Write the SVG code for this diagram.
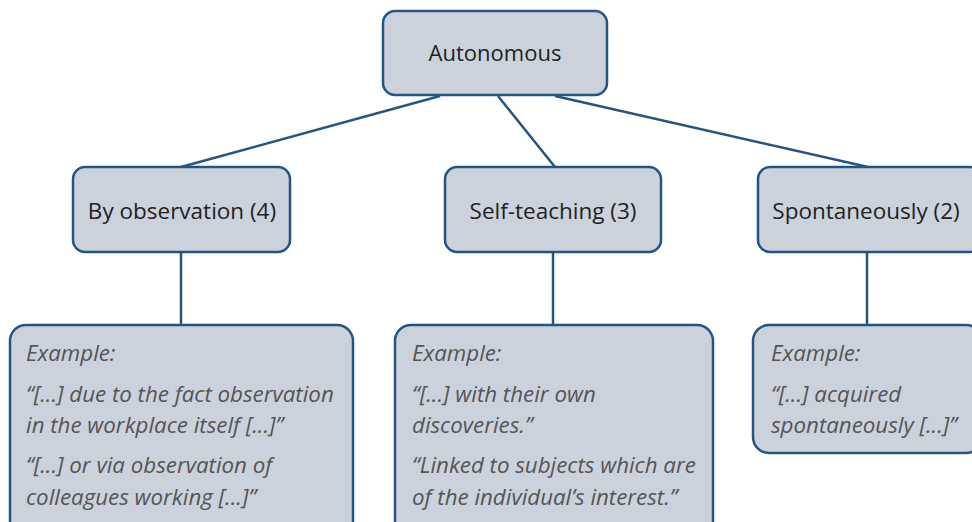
<svg xmlns="http://www.w3.org/2000/svg" width="972" height="522" viewBox="0 0 972 522">
<style>
.box{fill:#cbd2dc;stroke:#245582;stroke-width:2.5}
.lbl{font-family:"Open Sans","Liberation Sans",sans-serif;font-size:22.5px;fill:#222;text-anchor:middle}
.ex{font-family:"Open Sans","Liberation Sans",sans-serif;font-size:22.3px;font-style:italic;fill:#555}
.conn{stroke:#245582;stroke-width:2.5;fill:none}
</style>
<rect width="972" height="522" fill="#ffffff"/>
<g id="connectors">
<line class="conn" x1="440" y1="96" x2="181" y2="167"/>
<line class="conn" x1="498" y1="96" x2="555" y2="167"/>
<line class="conn" x1="555" y1="96" x2="868" y2="167"/>
<line class="conn" x1="181" y1="252" x2="181" y2="325"/>
<line class="conn" x1="553" y1="252" x2="553" y2="325"/>
<line class="conn" x1="867" y1="252" x2="867" y2="325"/>
</g>
<g id="autonomous">
<rect class="box" x="383" y="11" width="224" height="84" rx="12"/>
<text class="lbl" x="495" y="61" style="font-size:22px">Autonomous</text>
</g>
<g id="observation">
<rect class="box" x="73" y="167" width="217" height="85" rx="12"/>
<text class="lbl" x="182" y="219">By observation (4)</text>
</g>
<g id="selfteaching">
<rect class="box" x="445" y="167" width="216" height="85" rx="12"/>
<text class="lbl" x="553" y="219">Self-teaching (3)</text>
</g>
<g id="spontaneously">
<rect class="box" x="758" y="167" width="224" height="85" rx="12"/>
<text class="lbl" x="866" y="219">Spontaneously (2)</text>
</g>
<g id="ex-observation">
<rect class="box" x="10" y="325" width="343" height="215" rx="16"/>
<text class="ex" x="26" y="361">Example:</text>
<text class="ex" x="26" y="402">“[...] due to the fact observation</text>
<text class="ex" x="26" y="433">in the workplace itself [...]”</text>
<text class="ex" x="26" y="473">“[...] or via observation of</text>
<text class="ex" x="26" y="505">colleagues working [...]”</text>
</g>
<g id="ex-selfteaching">
<rect class="box" x="395" y="325" width="318" height="215" rx="16"/>
<text class="ex" x="412" y="361">Example:</text>
<text class="ex" x="412" y="402">“[...] with their own</text>
<text class="ex" x="412" y="433">discoveries.”</text>
<text class="ex" x="412" y="473">“Linked to subjects which are</text>
<text class="ex" x="412" y="505">of the individual’s interest.”</text>
</g>
<g id="ex-spontaneously">
<rect class="box" x="753" y="325" width="229" height="128" rx="16"/>
<text class="ex" x="771" y="361">Example:</text>
<text class="ex" x="771" y="402">“[...] acquired</text>
<text class="ex" x="771" y="433">spontaneously [...]”</text>
</g>
</svg>
